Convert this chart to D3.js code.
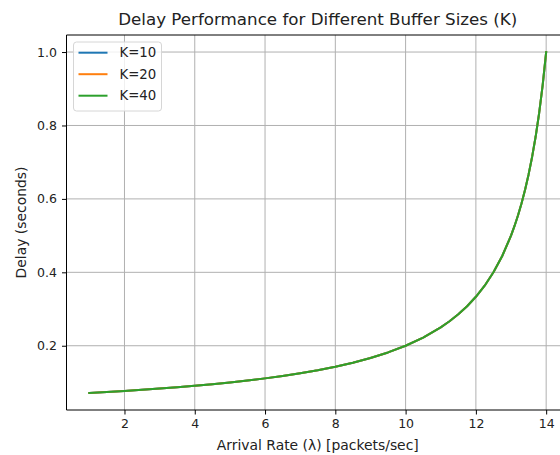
<!DOCTYPE html>
<html><head><meta charset="utf-8">
<script src="https://cdn.jsdelivr.net/npm/d3@7"></script>
<style>body{margin:0;background:#fff}svg{display:block;font-family:"DejaVu Sans",sans-serif}</style>
</head><body>
<svg id="c" width="560" height="455"></svg>
<script>
const lambdaValues = [1,1.5,2,2.5,3,3.5,4,4.5,5,5.5,6,6.5,7,7.5,8,8.5,9,9.5,10,10.5,11,11.25,11.5,11.75,12,12.25,12.5,12.75,13,13.1,13.2,13.3,13.4,13.5,13.6,13.7,13.8,13.9,14];
const delayK10 = [0.0714,0.0741,0.0769,0.08,0.0833,0.087,0.0909,0.0952,0.1,0.1053,0.1111,0.1176,0.125,0.1333,0.1429,0.1538,0.1667,0.1818,0.2,0.2222,0.25,0.2667,0.2857,0.3077,0.3333,0.3636,0.4,0.4444,0.5,0.5263,0.5556,0.5882,0.625,0.6667,0.7143,0.7692,0.8333,0.9091,1.0];
const delayK20 = [0.0714,0.0741,0.0769,0.08,0.0833,0.087,0.0909,0.0952,0.1,0.1053,0.1111,0.1176,0.125,0.1333,0.1429,0.1538,0.1667,0.1818,0.2,0.2222,0.25,0.2667,0.2857,0.3077,0.3333,0.3636,0.4,0.4444,0.5,0.5263,0.5556,0.5882,0.625,0.6667,0.7143,0.7692,0.8333,0.9091,1.0];
const delayK40 = [0.0714,0.0741,0.0769,0.08,0.0833,0.087,0.0909,0.0952,0.1,0.1053,0.1111,0.1176,0.125,0.1333,0.1429,0.1538,0.1667,0.1818,0.2,0.2222,0.25,0.2667,0.2857,0.3077,0.3333,0.3636,0.4,0.4444,0.5,0.5263,0.5556,0.5882,0.625,0.6667,0.7143,0.7692,0.8333,0.9091,1.0];
const seriesNames = ["K=10","K=20","K=40"];
const seriesColors = ["#1f77b4","#ff7f0e","#2ca02c"];
const xTicks = [2,4,6,8,10,12,14];
const yTicks = [0.2,0.4,0.6,0.8,1.0];
const titleText = "Delay Performance for Different Buffer Sizes (K)";
const xLabel = "Arrival Rate (\u03bb) [packets/sec]";
const yLabel = "Delay (seconds)";

const series = [delayK10, delayK20, delayK40].map((vals, i) => ({
  name: seriesNames[i], color: seriesColors[i],
  points: lambdaValues.map((l, j) => ({x: l, y: vals[j]}))
}));

const svg = d3.select("#c");
const L = 66.5, R = 569, T = 35, B = 410;
const xMin = d3.min(lambdaValues), xMax = d3.max(lambdaValues);
const allY = [].concat(delayK10, delayK20, delayK40);
const yMin = d3.min(allY), yMax = d3.max(allY);
const xm = (xMax - xMin) * 0.05, ym = (yMax - yMin) * 0.05;
const x = d3.scaleLinear().domain([xMin - xm, xMax + xm]).range([L, R]);
const y = d3.scaleLinear().domain([yMin - ym, yMax + ym]).range([B, T]);

// grid
const g = svg.append("g");
g.selectAll(".gx").data(xTicks).enter().append("line")
  .attr("x1", d => x(d)).attr("x2", d => x(d)).attr("y1", T).attr("y2", B)
  .attr("stroke", "#b0b0b0").attr("stroke-width", 1);
g.selectAll(".gy").data(yTicks).enter().append("line")
  .attr("y1", d => y(d)).attr("y2", d => y(d)).attr("x1", L).attr("x2", R)
  .attr("stroke", "#b0b0b0").attr("stroke-width", 1);

// lines
const line = d3.line().x(d => x(d.x)).y(d => y(d.y));
svg.selectAll(".ln").data(series).enter().append("path")
  .attr("d", d => line(d.points)).attr("fill", "none")
  .attr("stroke", d => d.color).attr("stroke-width", 2)
  .attr("stroke-linejoin", "round").attr("stroke-linecap", "square");

// axes
const xAxis = d3.axisBottom(x).tickValues(xTicks).tickSize(4.5).tickPadding(5).tickFormat(d3.format("d"));
const yAxis = d3.axisLeft(y).tickValues(yTicks).tickSize(4.5).tickPadding(5).tickFormat(d3.format(".1f"));
const ax = svg.append("g").attr("transform", `translate(0,${B})`).call(xAxis);
const ay = svg.append("g").attr("transform", `translate(${L},0)`).call(yAxis);
[ax, ay].forEach(a => {
  a.select(".domain").remove();
  a.selectAll("line").attr("stroke", "#000").attr("stroke-width", 1);
  a.selectAll("text").attr("fill", "#222").style("font-size", "12.5px").style("font-family", "DejaVu Sans");
});
// spines
svg.append("line").attr("x1", L).attr("x2", R).attr("y1", B).attr("y2", B).attr("stroke", "#000").attr("stroke-width", 1);
svg.append("line").attr("x1", L).attr("x2", R).attr("y1", T).attr("y2", T).attr("stroke", "#000").attr("stroke-width", 1);
svg.append("line").attr("x1", L).attr("x2", L).attr("y1", T).attr("y2", B).attr("stroke", "#000").attr("stroke-width", 1);

// title and labels
const cx = (L + R) / 2;
svg.append("text").attr("x", cx).attr("y", 25).attr("text-anchor", "middle")
  .style("font-size", "16.7px").attr("fill", "#222").text(titleText);
svg.append("text").attr("x", cx).attr("y", 450).attr("text-anchor", "middle")
  .style("font-size", "13.9px").attr("fill", "#222").text(xLabel);
svg.append("text").attr("transform", `translate(25.5,${(T + B) / 2}) rotate(-90)`).attr("text-anchor", "middle")
  .style("font-size", "13.9px").attr("fill", "#222").text(yLabel);

// legend
const lg = svg.append("g");
lg.append("rect").attr("x", 73.5).attr("y", 42).attr("width", 88).attr("height", 69)
  .attr("rx", 3).attr("fill", "#fff").attr("fill-opacity", 0.8).attr("stroke", "#d6d6d6").attr("stroke-width", 1);
const ent = lg.selectAll(".e").data(series).enter().append("g")
  .attr("transform", (d, i) => `translate(0,${52.7 + i * 21.5})`);
ent.append("line").attr("x1", 78.5).attr("x2", 107.5).attr("y1", 0).attr("y2", 0)
  .attr("stroke", d => d.color).attr("stroke-width", 2);
ent.append("text").attr("x", 119.5).attr("y", 0).attr("dy", "0.36em")
  .style("font-size", "13.3px").attr("fill", "#222").text(d => d.name);
</script>
</body></html>
